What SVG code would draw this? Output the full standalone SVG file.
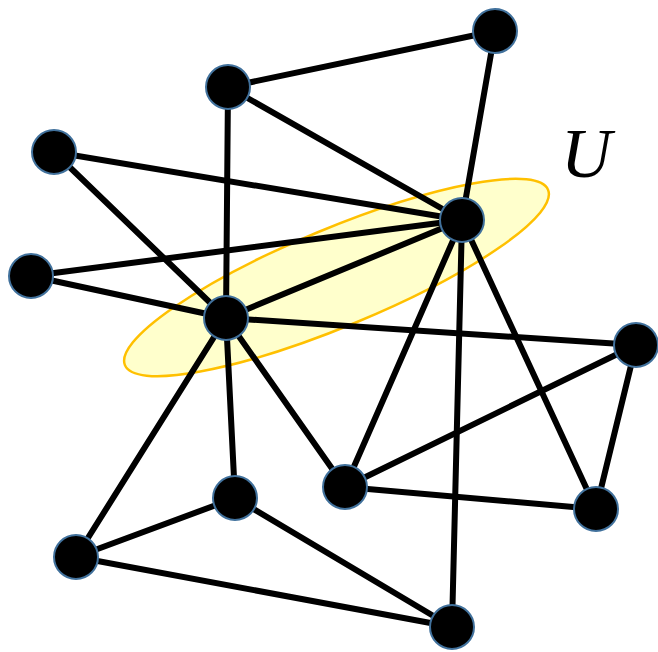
<svg xmlns="http://www.w3.org/2000/svg" width="658" height="652" viewBox="0 0 658 652">
<style>
.e{stroke:#000;stroke-width:6;fill:none;stroke-linecap:round}
.n{fill:#000;stroke:#41719C;stroke-width:2}
</style>
<rect width="658" height="652" fill="#fff"/>
<ellipse cx="336.5" cy="277.5" rx="229" ry="49" transform="rotate(-22.5 336.5 277.5)" fill="#FFFFCC" stroke="#FFC000" stroke-width="2.5"/>
<text x="561" y="177" font-family="Liberation Serif, serif" font-style="italic" font-size="70" fill="#000">U</text>
<g id="edges">
<line class="e" x1="228" y1="87" x2="495" y2="31"/>
<line class="e" x1="495" y1="31" x2="462" y2="220"/>
<line class="e" x1="228" y1="87" x2="462" y2="220"/>
<line class="e" x1="228" y1="87" x2="226" y2="318"/>
<line class="e" x1="54" y1="152" x2="462" y2="220"/>
<line class="e" x1="54" y1="152" x2="226" y2="318"/>
<line class="e" x1="31" y1="276" x2="462" y2="220"/>
<line class="e" x1="31" y1="276" x2="226" y2="318"/>
<line class="e" x1="226" y1="318" x2="462" y2="220"/>
<line class="e" x1="226" y1="318" x2="636" y2="345"/>
<line class="e" x1="226" y1="318" x2="345" y2="487"/>
<line class="e" x1="226" y1="318" x2="235" y2="498"/>
<line class="e" x1="226" y1="318" x2="76" y2="557"/>
<line class="e" x1="462" y1="220" x2="345" y2="487"/>
<line class="e" x1="462" y1="220" x2="452" y2="627"/>
<line class="e" x1="462" y1="220" x2="596" y2="509"/>
<line class="e" x1="636" y1="345" x2="345" y2="487"/>
<line class="e" x1="636" y1="345" x2="596" y2="509"/>
<line class="e" x1="345" y1="487" x2="596" y2="509"/>
<line class="e" x1="235" y1="498" x2="76" y2="557"/>
<line class="e" x1="235" y1="498" x2="452" y2="627"/>
<line class="e" x1="76" y1="557" x2="452" y2="627"/>
</g>
<g id="nA"><circle class="n" cx="495" cy="31" r="22"/></g>
<g id="nB"><circle class="n" cx="228" cy="87" r="22"/></g>
<g id="nC"><circle class="n" cx="54" cy="152" r="22"/></g>
<g id="nD"><circle class="n" cx="462" cy="220" r="22"/></g>
<g id="nE"><circle class="n" cx="31" cy="276" r="22"/></g>
<g id="nF"><circle class="n" cx="226" cy="318" r="22"/></g>
<g id="nG"><circle class="n" cx="636" cy="345" r="22"/></g>
<g id="nH"><circle class="n" cx="345" cy="487" r="22"/></g>
<g id="nI"><circle class="n" cx="235" cy="498" r="22"/></g>
<g id="nJ"><circle class="n" cx="596" cy="509" r="22"/></g>
<g id="nK"><circle class="n" cx="76" cy="557" r="22"/></g>
<g id="nL"><circle class="n" cx="452" cy="627" r="22"/></g>
</svg>
